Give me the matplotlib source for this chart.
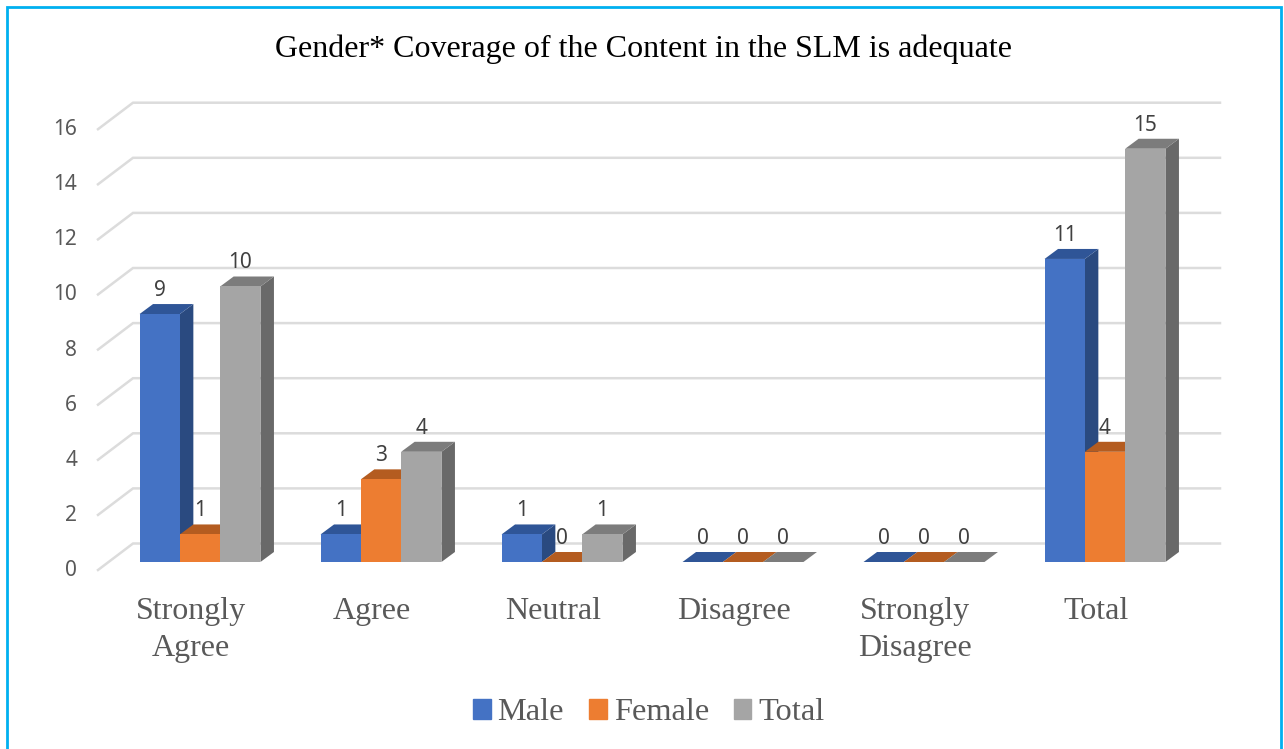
import matplotlib
matplotlib.use("Agg")
import matplotlib.pyplot as plt
from matplotlib.patches import Patch, Polygon, Rectangle
from matplotlib.transforms import ScaledTranslation

# chart values
categories = ["Strongly\nAgree", "Agree", "Neutral", "Disagree", "Strongly\nDisagree", "Total"]
male = [9, 1, 1, 0, 0, 11]
female = [1, 3, 0, 0, 0, 4]
total = [10, 4, 1, 0, 0, 15]
yticks = [0, 2, 4, 6, 8, 10, 12, 14, 16]

W, H = 1284, 749
STEP = 181.0  # pixels per category
UNIT = 27.55  # pixels per value

fig = plt.figure(figsize=(W / 100, H / 100), dpi=100, facecolor="white")

# blue frame, its bottom edge runs off the image
fig.add_artist(Rectangle((7 / W, -0.1), 1274 / W, 1.1 - 7 / H, transform=fig.transFigure,
                         fill=False, edgecolor="#00B0F0", linewidth=2.0))

# axes box: front plane of the 3d chart
left, right, bottom, top = 98, 1220, 562, 562 - 16 * UNIT
ax = fig.add_axes([left / W, 1 - bottom / H, (right - left) / W, (bottom - top) / H])
ax.set_xlim((left - 200) / STEP, (right - 200) / STEP)
ax.set_ylim(0, 16)
ax.patch.set_visible(False)
for s in ax.spines.values():
    s.set_visible(False)

dx = 13.5 / STEP
dy = 10 / UNIT
bar_w = 40.3 / STEP

# walls
for v in yticks:
    ax.plot([ax.get_xlim()[0], ax.get_xlim()[0] + 35 / STEP, ax.get_xlim()[1]],
            [v - 8 / UNIT, v + 18.5 / UNIT, v + 18.5 / UNIT],
            color="#DCDCDC", lw=1.8, clip_on=False, zorder=1, solid_joinstyle="miter")

series = [
    ("Male", male, "#4472C4", "#2F5597", "#2A4A80", -1),
    ("Female", female, "#ED7D31", "#B45C20", "#A04F1B", 0),
    ("Total", total, "#A5A5A5", "#7C7C7C", "#696969", 1),
]

z = 3
for name, vals, front, top_c, side_c, k in series:
    for i, v in enumerate(vals):
        x0 = i + k * bar_w - bar_w / 2
        x1 = x0 + bar_w
        ax.add_patch(Polygon([(x1, 0), (x1 + dx, dy), (x1 + dx, v + dy), (x1, v)],
                             facecolor=side_c, edgecolor="none", zorder=z, clip_on=False))
        ax.add_patch(Polygon([(x0, v), (x0 + dx, v + dy), (x1 + dx, v + dy), (x1, v)],
                             facecolor=top_c, edgecolor="none", zorder=z, clip_on=False))
        if v > 0:
            ax.bar(i + k * bar_w, v, width=bar_w, color=front, zorder=z + 0.5)
        ax.annotate(str(v), (i + k * bar_w, v), xytext=(0, 17), textcoords="offset points",
                    ha="center", va="center", fontsize=15, color="#404040",
                    family="Noto Sans", zorder=20, annotation_clip=False)
    z += 1

# tick labels, sitting at the front edge of the floor
ax.set_yticks(yticks)
ax.tick_params(axis="y", length=0, pad=15, labelsize=15, labelcolor="#595959")
shift = ScaledTranslation(0, -6 / 100, fig.dpi_scale_trans)
for lab in ax.get_yticklabels():
    lab.set_family("Noto Sans")
    lab.set_transform(lab.get_transform() + shift)

ax.set_xticks([i - 9 / STEP for i in range(len(categories))])
ax.set_xticklabels(categories, family="Liberation Serif", fontsize=23, color="#595959",
                   linespacing=1.34)
ax.tick_params(axis="x", length=0, pad=25.5)

fig.text(644 / W, 1 - 49 / H, "Gender* Coverage of the Content in the SLM is adequate",
         ha="center", va="center", family="Liberation Serif", fontsize=23, color="black")

handles = [Patch(color=s[2], label=s[0]) for s in series]
fig.legend(handles=handles, ncol=3, loc="center", bbox_to_anchor=(649 / W, 1 - 713 / H),
           frameon=False, handlelength=0.53, handleheight=0.53, handletextpad=0.22,
           columnspacing=0.78, prop={"family": "Liberation Serif", "size": 23.3},
           labelcolor="#595959")

fig.savefig("out.png", dpi=100)
